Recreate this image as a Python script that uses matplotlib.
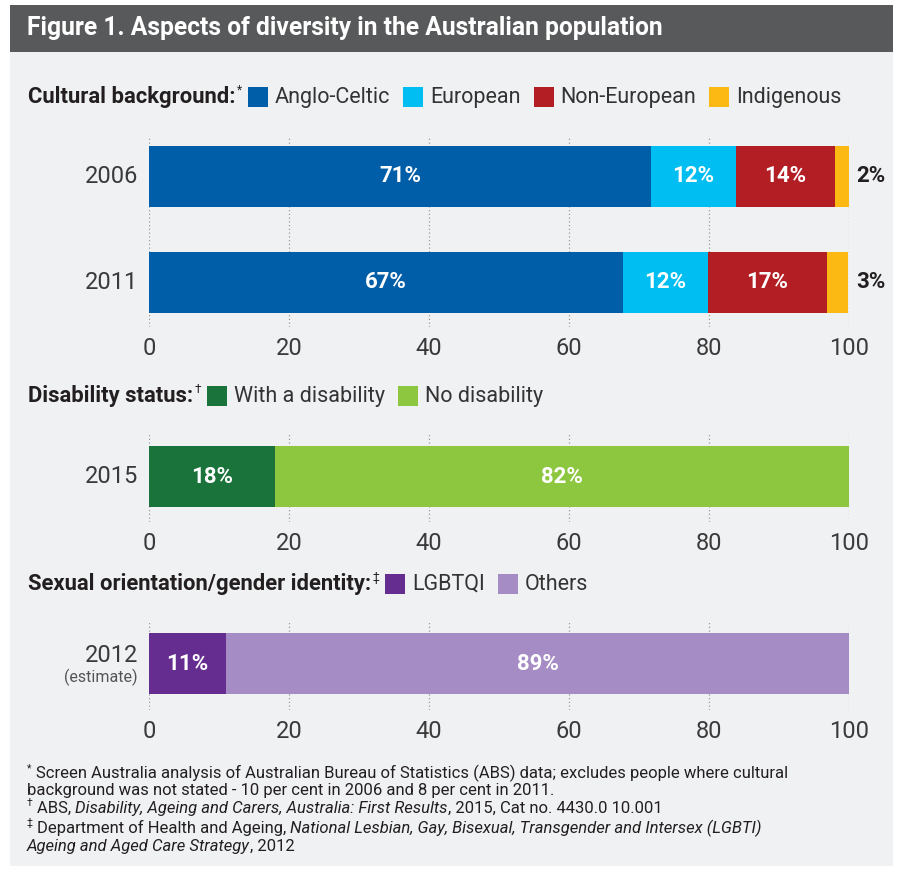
import matplotlib.pyplot as plt
from matplotlib.patches import Rectangle

plt.rcParams['font.family'] = ['Roboto', 'DejaVu Sans']

# data
cultural_years = ["2006", "2011"]
cultural_groups = ["Anglo-Celtic", "European", "Non-European", "Indigenous"]
anglo_celtic = [71.7, 67.7]
european = [12.2, 12.1]
non_european = [14.1, 17.1]
indigenous = [2.0, 3.0]
anglo_labels = ["71%", "67%"]
european_labels = ["12%", "12%"]
non_european_labels = ["14%", "17%"]
indigenous_labels = ["2%", "3%"]

disability_years = ["2015"]
disability_groups = ["With a disability", "No disability"]
with_disability = [18]
no_disability = [82]
with_labels = ["18%"]
no_labels = ["82%"]

orientation_years = ["2012"]
orientation_groups = ["LGBTQI", "Others"]
lgbtqi = [11]
others = [89]
lgbtqi_labels = ["11%"]
others_labels = ["89%"]

x_ticks = [0, 20, 40, 60, 80, 100]

c_anglo, c_euro, c_noneuro, c_indig = "#005ea8", "#00bdf2", "#b31e25", "#fdb913"
c_dis, c_nodis = "#1a733b", "#8dc63f"
c_lgb, c_oth = "#662d91", "#a68cc4"
txt = "#231f20"
axis_txt = "#3a3a3a"
panel_bg = "#f0f1f3"

W, H = 899, 872
fig = plt.figure(figsize=(W / 100, H / 100), dpi=100)
renderer = fig.canvas.get_renderer()


def fx(px):
    return px / W


def fy(py):
    return 1 - py / H


# background panel and title bar (kept behind the axes)
fig.add_artist(Rectangle((fx(10), fy(866)), fx(883), (866 - 52) / H,
                         transform=fig.transFigure, color=panel_bg, lw=0, zorder=-10))
fig.add_artist(Rectangle((fx(10), fy(52)), fx(883), 47 / H,
                         transform=fig.transFigure, color="#58595b", lw=0, zorder=-10))
fig.text(fx(27), fy(28), "Figure 1. Aspects of diversity in the Australian population",
         color="white", weight="bold", size=17.7, va="center")


def text_width(t):
    return t.get_window_extent(renderer=renderer).width


def legend_row(y, heading, mark, names, colors):
    t = fig.text(fx(28), fy(y), heading, weight="bold", size=15.8, va="center", color=txt)
    x = 28 + text_width(t) + 1
    m = fig.text(fx(x), fy(y - 7), mark, size=8.5, va="center", color=txt)
    x += text_width(m) + 6
    for name, col in zip(names, colors):
        fig.add_artist(Rectangle((fx(x), fy(y + 10)), fx(20), 20 / H,
                                 transform=fig.transFigure, color=col, lw=0))
        x += 27
        lt = fig.text(fx(x), fy(y), name, size=15.5, va="center", color="#333333")
        x += text_width(lt) + 13


def panel(top, bottom, first_center, years, series, labels, colors, outside=None):
    unit = 106.0
    ax = fig.add_axes([fx(149), fy(bottom), fx(700), (bottom - top) / H])
    ax.set_facecolor("none")
    ypos = list(range(len(years)))
    left = [0.0] * len(years)
    for k, (vals, col) in enumerate(zip(series, colors)):
        ax.barh(ypos, vals, left=left, height=61 / unit, color=col, zorder=2)
        for i, v in enumerate(vals):
            if outside is not None and k == len(series) - 1:
                ax.text(101.0, ypos[i], labels[k][i], ha="left", va="center",
                        color=txt, weight="bold", size=16)
            else:
                ax.text(left[i] + v / 2, ypos[i], labels[k][i], ha="center", va="center",
                        color="white", weight="bold", size=16)
        left = [a + b for a, b in zip(left, vals)]
    ax.set_xlim(0, 100)
    ax.set_ylim((bottom - first_center) / unit, -(first_center - top) / unit)
    ax.set_xticks(x_ticks)
    ax.set_xticklabels([str(v) for v in x_ticks], size=17, color=axis_txt)
    ax.tick_params(axis="x", length=0, pad=7)
    ax.set_yticks([])
    ax.grid(axis="x", linestyle=(0, (1, 2)), color="#9a9a9a", lw=0.9, zorder=0)
    for s in ax.spines.values():
        s.set_visible(False)
    return ax


# cultural background
legend_row(97, "Cultural background:", "*", cultural_groups, [c_anglo, c_euro, c_noneuro, c_indig])
ax1 = panel(136, 327, 176.5, cultural_years,
            [anglo_celtic, european, non_european, indigenous],
            [anglo_labels, european_labels, non_european_labels, indigenous_labels],
            [c_anglo, c_euro, c_noneuro, c_indig], outside=True)
for i, yr in enumerate(cultural_years):
    ax1.annotate(yr, (0, i), xycoords=("axes fraction", "data"), xytext=(-8, 0),
                 textcoords="offset points", ha="right", va="center", size=17, color=axis_txt)

# disability
legend_row(396, "Disability status:", "\u2020", disability_groups, [c_dis, c_nodis])
ax2 = panel(432, 522, 476.5, disability_years, [with_disability, no_disability],
            [with_labels, no_labels], [c_dis, c_nodis])
ax2.annotate(disability_years[0], (0, 0), xycoords=("axes fraction", "data"), xytext=(-8, 0),
             textcoords="offset points", ha="right", va="center", size=17, color=axis_txt)

# sexual orientation / gender identity
legend_row(584, "Sexual orientation/gender identity:", "\u2021", orientation_groups, [c_lgb, c_oth])
ax3 = panel(620, 710, 663.5, orientation_years, [lgbtqi, others],
            [lgbtqi_labels, others_labels], [c_lgb, c_oth])
ax3.annotate(orientation_years[0], (0, 0), xycoords=("axes fraction", "data"), xytext=(-8, 6),
             textcoords="offset points", ha="right", va="center", size=17, color=axis_txt)
ax3.annotate("(estimate)", (0, 0), xycoords=("axes fraction", "data"), xytext=(-8, -10),
             textcoords="offset points", ha="right", va="center", size=11.5, color="#555555")


# footnotes
def note_line(y, runs):
    x = 27
    for s, style in runs:
        if style == "sup":
            t = fig.text(fx(x), fy(y - 5), s, size=7.5, va="center", color=txt)
            x += text_width(t) + 4
        else:
            t = fig.text(fx(x), fy(y), s, size=12, va="center", color=txt, style=style)
            x += text_width(t)


note_line(773, [("*", "sup"), ("Screen Australia analysis of Australian Bureau of Statistics (ABS) data; "
                                "excludes people where cultural", "normal")])
note_line(790, [("background was not stated - 10 per cent in 2006 and 8 per cent in 2011.", "normal")])
note_line(808, [("\u2020", "sup"), ("ABS, ", "normal"),
                ("Disability, Ageing and Carers, Australia: First Results", "italic"),
                (", 2015, Cat no. 4430.0 10.001", "normal")])
note_line(828, [("\u2021", "sup"), ("Department of Health and Ageing, ", "normal"),
                ("National Lesbian, Gay, Bisexual, Transgender and Intersex (LGBTI)", "italic")])
note_line(846, [("Ageing and Aged Care Strategy", "italic"), (", 2012", "normal")])

fig.savefig("out.png", dpi=100)
